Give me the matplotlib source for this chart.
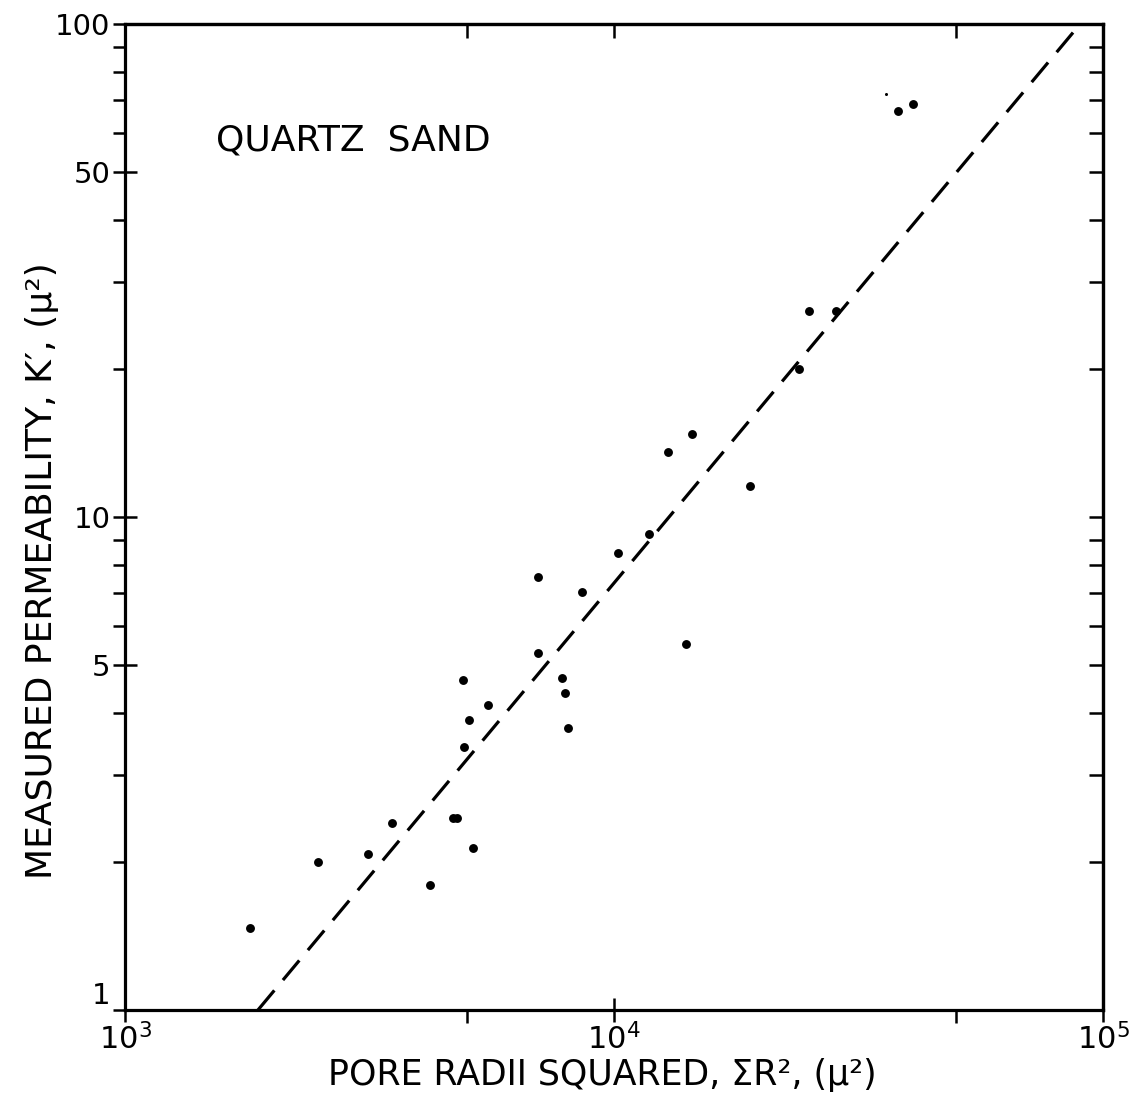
import numpy as np
import matplotlib
matplotlib.use("Agg")
import matplotlib.pyplot as plt
from matplotlib.ticker import FixedLocator, NullFormatter, FixedFormatter

plt.rcParams['font.family'] = ['DejaVu Sans']
plt.rcParams['mathtext.fontset'] = 'dejavusans'

# Quartz sand samples: pore radii squared vs measured permeability
radii_sq = [1800, 2480, 3140, 3520, 4200, 4680, 4780, 5150, 4930, 5050,
            4910, 5530, 6990, 6990, 7830, 7940, 8050, 8600, 10190, 11790,
            12900, 14440, 14040, 18970, 23890, 25050, 28440, 38090, 40880]
perm = [1.47, 2.0, 2.07, 2.4, 1.79, 2.45, 2.45, 2.13, 3.42, 3.88,
        4.67, 4.16, 5.3, 7.56, 4.72, 4.4, 3.73, 7.05, 8.45, 9.24,
        13.55, 14.74, 5.53, 11.56, 19.96, 26.2, 26.2, 66.6, 68.8]
# faint speck printed next to the top pair
speck_x = [36000]
speck_k = [72.0]

# fitted trend line end points
fit_x = [1870, 89800]
fit_k = [1.0, 100.0]

y_major = [1, 5, 10, 50, 100]
y_major_labels = ['1', '5', '10', '50', '100']
y_minor = [2, 3, 4, 6, 7, 8, 9, 20, 30, 40, 60, 70, 80, 90]
y_right = [2, 3, 4, 5, 6, 7, 8, 9, 10, 20, 30, 40, 50, 60, 70, 80, 90]
x_major = [1e3, 1e4, 1e5]
x_major_labels = ['$10^3$', '$10^4$', '$10^5$']
x_minor = [5e3, 5e4]
x_top = [5e3, 1e4, 5e4]

fig = plt.figure(figsize=(11.43, 10.97), dpi=100)
ax = fig.add_axes([0.1094, 0.0793, 0.8556, 0.8988])
ax.set_xscale('log')
ax.set_yscale('log')
ax.set_xlim(1e3, 1e5)
ax.set_ylim(1, 100)

ax.plot(radii_sq, perm, 'o', color='black', markersize=6.4, markeredgewidth=0)
ax.plot(speck_x, speck_k, 'o', color='black', markersize=2.2, markeredgewidth=0)

line, = ax.plot(fit_x, fit_k, color='black', linewidth=2.3)
line.set_dashes([8.0, 4.2])

for s in ax.spines.values():
    s.set_linewidth(2.3)

# left axis: labelled majors cross the spine, minors point out
ax.yaxis.set_major_locator(FixedLocator(y_major))
ax.yaxis.set_major_formatter(FixedFormatter(y_major_labels))
ax.yaxis.set_minor_locator(FixedLocator(y_minor))
ax.yaxis.set_minor_formatter(NullFormatter())
ax.tick_params(axis='y', which='major', direction='inout', length=17, width=1.8,
               labelsize=21, pad=2, right=False)
ax.tick_params(axis='y', which='minor', direction='out', length=9, width=1.8, right=False)

# bottom axis
ax.xaxis.set_major_locator(FixedLocator(x_major))
ax.xaxis.set_major_formatter(FixedFormatter(x_major_labels))
ax.xaxis.set_minor_locator(FixedLocator(x_minor))
ax.xaxis.set_minor_formatter(NullFormatter())
ax.tick_params(axis='x', which='major', direction='inout', length=17, width=1.8,
               labelsize=22, pad=1, top=False)
ax.tick_params(axis='x', which='minor', direction='out', length=9, width=1.8, top=False)

# top and right axes carry their own inward ticks
top = ax.secondary_xaxis('top')
top.xaxis.set_major_locator(FixedLocator(x_top))
top.xaxis.set_minor_locator(FixedLocator([]))
top.tick_params(which='major', direction='in', length=10, width=1.8, labeltop=False)
top.spines['top'].set_linewidth(2.3)

right = ax.secondary_yaxis('right')
right.yaxis.set_major_locator(FixedLocator(y_right))
right.yaxis.set_minor_locator(FixedLocator([]))
right.tick_params(which='major', direction='in', length=10, width=1.8, labelright=False)
right.spines['right'].set_linewidth(2.3)

ax.set_ylabel("MEASURED PERMEABILITY, K′, (μ²)", fontsize=26)
ax.yaxis.set_label_coords(-0.085, 0.446)
ax.yaxis.label.set_va('center')
ax.set_xlabel("PORE RADII SQUARED, ΣR², (μ²)", fontsize=25)
ax.xaxis.set_label_coords(0.488, -0.066)
ax.xaxis.label.set_va('center')

ax.text(0.093, 0.882, "QUARTZ  SAND", transform=ax.transAxes, fontsize=26,
        ha='left', va='center')

# the bottom-left "1" sits above the corner, clear of 10^3
fig.canvas.draw()
ax.get_yticklabels()[0].set_va('bottom')

fig.savefig('out.png', dpi=100)
